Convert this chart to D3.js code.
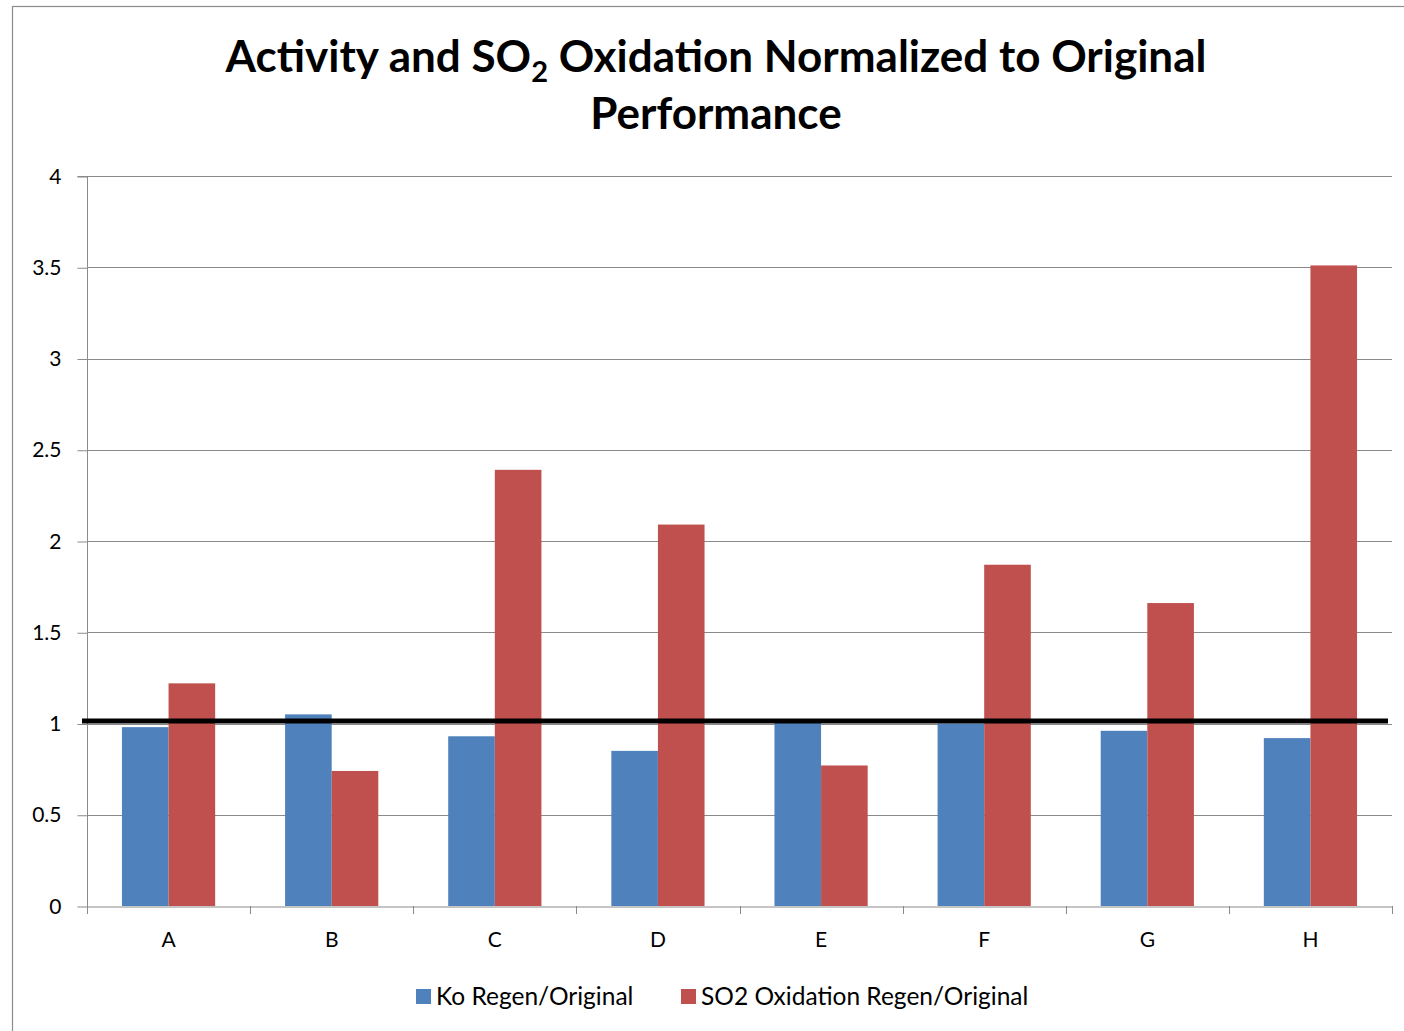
<!DOCTYPE html>
<html>
<head>
<meta charset="utf-8">
<script src="https://cdn.jsdelivr.net/npm/d3@7"></script>
<style>
  html, body { margin: 0; padding: 0; background: #fff; }
  svg { display: block; }
</style>
</head>
<body>
<svg id="chart" width="1404" height="1031"></svg>
<script>
// Catalyst samples
const categories = ["A", "B", "C", "D", "E", "F", "G", "H"];
// Ko Regen/Original
const koRatio = [0.98, 1.05, 0.93, 0.85, 1.01, 1.00, 0.96, 0.92];
// SO2 Oxidation Regen/Original
const so2Ratio = [1.22, 0.74, 2.39, 2.09, 0.77, 1.87, 1.66, 3.51];
const seriesNames = ["Ko Regen/Original", "SO2 Oxidation Regen/Original"];
const yTicks = [0, 0.5, 1, 1.5, 2, 2.5, 3, 3.5, 4];
const referenceValue = 1;

const colors = ["#4F81BD", "#C0504D"];
const font = "Lato, 'Open Sans', sans-serif";

const svg = d3.select("#chart");
const W = 1404, H = 1031;

// Chart area frame
svg.append("rect")
  .attr("x", 12.5).attr("y", 6.5)
  .attr("width", W + 10).attr("height", H + 10)
  .attr("fill", "#fff").attr("stroke", "#8c8c8c").attr("stroke-width", 1.2);

const plot = { left: 87, right: 1392, top: 176, bottom: 906 };

const x = d3.scaleBand().domain(categories).range([plot.left, plot.right]).paddingInner(0).paddingOuter(0);
const barW = x.bandwidth() / 3.5; // gap width 150%
const xs = d3.scaleBand().domain([0, 1]).range([0.75 * barW, 2.75 * barW]);
const y = d3.scaleLinear().domain([0, 4]).range([plot.bottom, plot.top]);

// Gridlines
svg.append("g").selectAll("line").data(yTicks.filter(t => t > 0)).join("line")
  .attr("x1", plot.left).attr("x2", plot.right)
  .attr("y1", d => Math.round(y(d)) + 0.5).attr("y2", d => Math.round(y(d)) + 0.5)
  .attr("stroke", "#8a8a8a").attr("stroke-width", 1);

// Y axis
const yAxis = svg.append("g")
  .attr("transform", `translate(${plot.left + 0.5},0.5)`)
  .call(d3.axisLeft(y).tickValues(yTicks).tickSize(10).tickPadding(16).tickFormat(d3.format("")));
yAxis.select(".domain").attr("stroke", "#8a8a8a").attr("d", `M-10,${y(4)}H0V${y(0)}`);
yAxis.selectAll(".tick line").attr("stroke", "#8a8a8a");
yAxis.selectAll(".tick text").attr("font-family", font).attr("font-size", 21).attr("fill", "#000");

// Bars
const rows = categories.map((c, i) => ({ cat: c, vals: [koRatio[i], so2Ratio[i]] }));
const groups = svg.append("g").selectAll("g").data(rows).join("g")
  .attr("transform", d => `translate(${x(d.cat)},0)`);
groups.selectAll("rect").data(d => d.vals.map((v, k) => ({ v, k }))).join("rect")
  .attr("x", d => xs(d.k))
  .attr("width", xs.bandwidth())
  .attr("y", d => y(d.v))
  .attr("height", d => y(0) - y(d.v))
  .attr("fill", d => colors[d.k]);

// X axis
const xAxis = svg.append("g")
  .attr("transform", `translate(0,${plot.bottom + 0.5})`)
  .call(d3.axisBottom(x).tickSize(0).tickPadding(26));
xAxis.select(".domain").attr("stroke", "#8a8a8a");
xAxis.selectAll(".tick text").attr("font-family", font).attr("font-size", 21).attr("fill", "#000");
const boundaries = categories.map(c => x(c)).concat([plot.right]);
svg.append("g").selectAll("line").data(boundaries).join("line")
  .attr("x1", d => Math.round(d) + 0.5).attr("x2", d => Math.round(d) + 0.5)
  .attr("y1", plot.bottom).attr("y2", plot.bottom + 8)
  .attr("stroke", "#8a8a8a");

// Reference line at 1
svg.append("line")
  .attr("x1", plot.left - 5).attr("x2", plot.right - 4)
  .attr("y1", y(referenceValue) - 2.5).attr("y2", y(referenceValue) - 2.5)
  .attr("stroke", "#000").attr("stroke-width", 5);

// Title
const title = svg.append("text")
  .attr("x", 716).attr("y", 72)
  .attr("text-anchor", "middle")
  .attr("font-family", font).attr("font-weight", "bold").attr("font-size", 44)
  .attr("fill", "#000");
title.append("tspan").text("Activity and SO");
title.append("tspan").attr("font-size", 29).attr("dy", 10).text("2");
title.append("tspan").attr("dy", -10).text(" Oxidation Normalized to Original");
svg.append("text")
  .attr("x", 716).attr("y", 129)
  .attr("text-anchor", "middle")
  .attr("font-family", font).attr("font-weight", "bold").attr("font-size", 44)
  .attr("fill", "#000")
  .text("Performance");

// Legend
const legend = svg.append("g");
const legendX = [416, 681];
seriesNames.forEach((name, k) => {
  legend.append("rect")
    .attr("x", legendX[k]).attr("y", 989).attr("width", 15).attr("height", 15)
    .attr("fill", colors[k]);
  legend.append("text")
    .attr("x", legendX[k] + 20).attr("y", 1005)
    .attr("font-family", font).attr("font-size", 24.5).attr("fill", "#000")
    .text(name);
});
</script>
</body>
</html>
